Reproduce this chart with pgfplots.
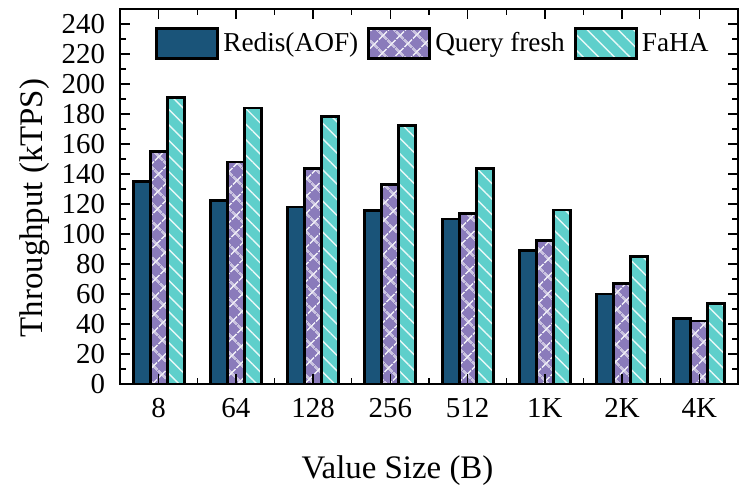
\documentclass[border=0pt]{standalone}
\usepackage{fontspec}
\setmainfont{Liberation Serif}
\usepackage{pgfplots}
\pgfplotsset{compat=1.18}
\usetikzlibrary{patterns.meta}

\definecolor{redisblue}{HTML}{1A5479}
\definecolor{qfpurple}{HTML}{8A7BBB}
\definecolor{fahateal}{HTML}{5ECFCB}

\begin{document}
\begin{tikzpicture}
\begin{axis}[
  name=ax,
  scale only axis,
  width=309bp, height=187.5bp,
  ybar=0pt,
  bar width=0.22,
  xmin=-0.5, xmax=7.5,
  ymin=0, ymax=250,
  xtick={0,...,7},
  xticklabels={8,64,128,256,512,1K,2K,4K},
  minor xtick={0.5,1.5,...,6.5},
  ytick={0,20,...,240},
  minor ytick={10,30,...,230},
  tick align=inside,
  major tick length=5bp,
  minor tick length=3bp,
  axis line style={line width=0.8bp},
  every tick/.style={black, line width=0.7bp},
  axis on top,
  /pgf/number format/assume math mode=true,
  ticklabel style={font=\fontsize{14.5}{17}\selectfont},
  yticklabel style={xshift=-4bp},
  xticklabel style={yshift=-3.5bp},
  xlabel={Value Size (B)},
  ylabel={Throughput (kTPS)},
  label style={font=\fontsize{16.5}{19}\selectfont},
  xlabel style={at={(axis description cs:0.449,-0.252)}, anchor=base},
  ylabel style={at={(axis description cs:-0.1251,0.469)}, anchor=base},
  legend style={at={(0.508,0.908)}, anchor=center, legend columns=-1,
    draw=none, fill=none, font=\fontsize{13.7}{16}\selectfont,
    /tikz/every even column/.append style={column sep=2.5bp}},
  legend image code/.code={\draw[#1, line width=1.5bp] (0bp,-7.5bp) rectangle (30.5bp,7.5bp);},
]
\addplot[fill=redisblue, draw=black, line width=1.4bp]
  coordinates {(0,135) (1,122.5) (2,118) (3,115.5) (4,110) (5,89) (6,60) (7,43.5)};
\addplot[fill=qfpurple, draw=black, line width=1.4bp,
  postaction={pattern={Hatch[angle=45, distance=6bp, line width=0.8bp]}, pattern color=white!85!qfpurple}]
  coordinates {(0,155) (1,148) (2,143.5) (3,133) (4,113.5) (5,95.5) (6,67) (7,42)};
\addplot[fill=fahateal, draw=black, line width=1.4bp,
  postaction={pattern={Lines[angle=-45, distance=5.5bp, line width=0.7bp]}, pattern color=white!85!fahateal}]
  coordinates {(0,191) (1,184) (2,178.5) (3,172.5) (4,143.5) (5,116) (6,85) (7,53.5)};
\legend{Redis(AOF), Query fresh, FaHA}
\end{axis}
\pgfresetboundingbox
\path[use as bounding box] (-60bp,-50.5bp) rectangle (309.5bp,192bp);
\end{tikzpicture}
\end{document}
